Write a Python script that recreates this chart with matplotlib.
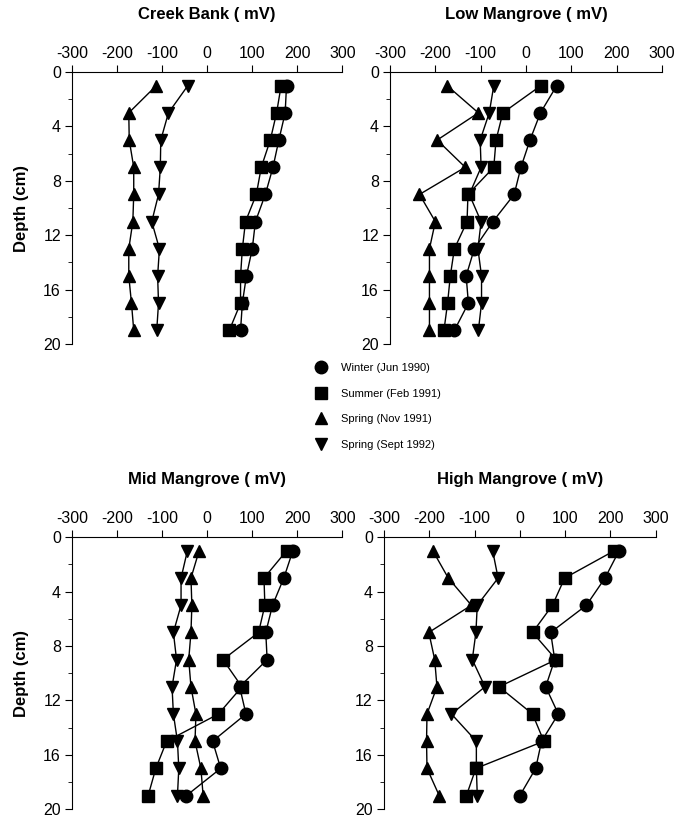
import matplotlib
matplotlib.use('Agg')
import matplotlib.pyplot as plt
from matplotlib.ticker import MultipleLocator

plt.rcParams['font.family'] = ['Liberation Sans', 'DejaVu Sans']
plt.rcParams['axes.unicode_minus'] = False

depth = [1, 3, 5, 7, 9, 11, 13, 15, 17, 19]
series_names = ['Winter (Jun 1990)', 'Summer (Feb 1991)', 'Spring (Nov 1991)', 'Spring (Sept 1992)']

creek_winter = [176, 173, 159, 146, 129, 107, 100, 87, 78, 74]
creek_summer = [164, 154, 140, 120, 109, 85, 78, 74, 74, 49]
creek_nov = [-113, -174, -173, -163, -163, -165, -174, -174, -168, -163]
creek_sept = [-43, -86, -103, -104, -108, -123, -106, -110, -108, -112]

low_winter = [68, 32, 9, -11, -26, -73, -114, -132, -127, -158]
low_summer = [33, -51, -66, -71, -128, -130, -158, -167, -173, -181]
low_nov = [-174, -105, -196, -134, -235, -200, -213, -213, -213, -213]
low_sept = [-71, -81, -101, -99, -125, -99, -106, -98, -98, -105]

mid_winter = [190, 170, 145, 130, 133, 72, 86, 12, 30, -46]
mid_summer = [176, 126, 128, 114, 35, 77, 25, -90, -114, -131]
mid_nov = [-18, -36, -34, -36, -41, -36, -25, -27, -14, -9]
mid_sept = [-44, -58, -58, -75, -68, -78, -75, -66, -63, -66]

high_winter = [219, 188, 147, 68, 77, 57, 85, 48, 35, 0]
high_summer = [208, 99, 72, 28, 80, -46, 28, 53, -97, -118]
high_nov = [-192, -158, -107, -201, -188, -183, -205, -206, -205, -178]
high_sept = [-60, -48, -94, -97, -105, -77, -151, -96, -96, -94]

panels = [
    ('Creek Bank ( mV)', [creek_winter, creek_summer, creek_nov, creek_sept]),
    ('Low Mangrove ( mV)', [low_winter, low_summer, low_nov, low_sept]),
    ('Mid Mangrove ( mV)', [mid_winter, mid_summer, mid_nov, mid_sept]),
    ('High Mangrove ( mV)', [high_winter, high_summer, high_nov, high_sept]),
]
markers = ['o', 's', '^', 'v']
msizes = [9, 8, 9, 9]

# axes rectangles in figure fractions (left, bottom, width, height)
rects = [
    [0.1065, 0.580, 0.400, 0.332],
    [0.577, 0.580, 0.402, 0.332],
    [0.1065, 0.012, 0.400, 0.332],
    [0.568, 0.012, 0.402, 0.332],
]

fig = plt.figure(figsize=(6.76, 8.19), dpi=100)

for i, (title, data) in enumerate(panels):
    ax = fig.add_axes(rects[i])
    for vals, m, ms in zip(data, markers, msizes):
        ax.plot(vals, depth, color='black', marker=m, markersize=ms, linewidth=1)
    ax.set_xlim(-300, 300)
    ax.set_ylim(20, 0)
    ax.xaxis.set_ticks_position('top')
    ax.xaxis.set_label_position('top')
    ax.set_xticks([-300, -200, -100, 0, 100, 200, 300])
    ax.set_yticks([0, 4, 8, 12, 16, 20])
    ax.yaxis.set_minor_locator(MultipleLocator(2))
    ax.spines['right'].set_visible(False)
    ax.spines['bottom'].set_visible(False)
    ax.tick_params(axis='both', which='major', direction='out', length=5,
                   labelsize=11.5, pad=3)
    ax.tick_params(axis='y', which='minor', direction='out', length=3)
    ax.set_title(title, fontsize=12, fontweight='bold', pad=38)
    if i % 2 == 0:
        ax.set_ylabel('Depth (cm)', fontsize=12, fontweight='bold', labelpad=10)

# legend between the panels
handles = [plt.Line2D([], [], color='black', marker=m, markersize=ms, linestyle='none')
           for m, ms in zip(markers, msizes)]
fig.legend(handles, series_names, loc='upper left', bbox_to_anchor=(0.452, 0.569),
           frameon=False, fontsize=8, labelspacing=1.4, handletextpad=1.3,
           handlelength=1.0)

fig.savefig('out.png', dpi=100)
